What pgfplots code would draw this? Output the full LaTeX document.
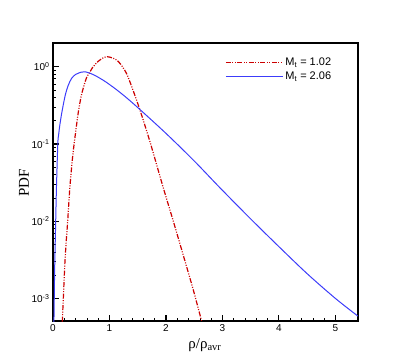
\documentclass[border=0pt]{standalone}
\usepackage{fontspec}
\setmainfont{Liberation Sans}
\newfontfamily\serifont{Liberation Serif}
\usepackage{pgfplots}
\pgfplotsset{compat=1.18}
\definecolor{myred}{RGB}{204,0,0}
\definecolor{myblue}{RGB}{60,60,250}
\begin{document}
\begin{tikzpicture}
\path[use as bounding box] (-53pt,-41pt) rectangle (354pt,321pt);
\begin{axis}[
  at={(0pt,0pt)}, anchor=south west,
  scale only axis, width=305pt, height=278pt,
  ymode=log,
  xmin=0, xmax=5.4, ymin=5.1e-4, ymax=2.03,
  xtick={0,1,2,3,4,5}, xticklabels={0,1,2,3,4,5},
  minor x tick num=4,
  ytick={1e-3,1e-2,1e-1,1},
  yticklabels={10\textsuperscript{-3},10\textsuperscript{-2},10\textsuperscript{-1},10\textsuperscript{0}},
  tick pos=left, tick align=inside,
  major tick length=6pt, minor tick length=3pt,
  major tick style={line width=1.1pt, black},
  minor tick style={line width=0.5pt, black},
  axis line style={line width=1.1pt},
  tick label style={font=\fontsize{10}{12}\selectfont},
  xlabel={\serifont ρ/ρ\textsubscript{avr}},
  ylabel={\serifont PDF},
  label style={font=\fontsize{15}{17}\selectfont},
  xlabel style={at={(axis description cs:0.498,-0.086)}, anchor=center},
  ylabel style={at={(axis description cs:-0.095,0.496)}, anchor=center},
  legend style={at={(axis description cs:0.564,0.955)}, anchor=north west, draw=none, fill=none, inner sep=0pt, row sep=1pt, font=\fontsize{11}{13}\selectfont},
  legend cell align=left,
  legend image code/.code={\draw[#1] (0pt,0pt) -- (57pt,0pt);},
]
\addplot[myred, line width=1.2pt, smooth, dash pattern=on 5pt off 1.5pt on 1pt off 1.5pt on 1pt off 1.5pt] coordinates {
(0.165,5.01e-4) (0.19,1.32e-3) (0.21,2.82e-3) (0.235,5.62e-3) (0.26,1.0e-2)
(0.30,2.82e-2) (0.35,7.08e-2) (0.40,0.141) (0.45,0.263) (0.50,0.417)
(0.55,0.575) (0.60,0.741) (0.65,0.841) (0.70,0.977) (0.80,1.175)
(0.90,1.318) (0.96,1.349) (1.05,1.303) (1.13,1.216) (1.20,1.072)
(1.30,0.822) (1.40,0.537) (1.54,0.275) (1.72,0.105) (1.95,0.0275)
(2.13,0.01) (2.31,3.55e-3) (2.48,1.32e-3) (2.63,5.13e-4)
};
\addlegendentry{M\textsubscript{t} = 1.02}
\addplot[myblue, line width=1pt, smooth] coordinates {
(0.012,4.47e-4) (0.018,5.89e-4) (0.03,2.51e-3) (0.045,7.94e-3) (0.06,2.51e-2)
(0.085,0.1) (0.10,0.132) (0.12,0.174) (0.15,0.240) (0.18,0.316)
(0.22,0.437) (0.27,0.575) (0.33,0.708) (0.40,0.794) (0.50,0.851)
(0.57,0.861) (0.64,0.832) (0.75,0.767) (0.90,0.661) (1.00,0.589)
(1.13,0.501) (1.30,0.398) (1.54,0.279) (2.01,0.135) (2.50,0.0603)
(2.96,0.0269) (3.50,0.0107) (4.00,4.68e-3) (4.50,2.09e-3) (5.00,1.0e-3)
(5.40,5.89e-4)
};
\addlegendentry{M\textsubscript{t} = 2.06}
\end{axis}
\end{tikzpicture}
\end{document}
